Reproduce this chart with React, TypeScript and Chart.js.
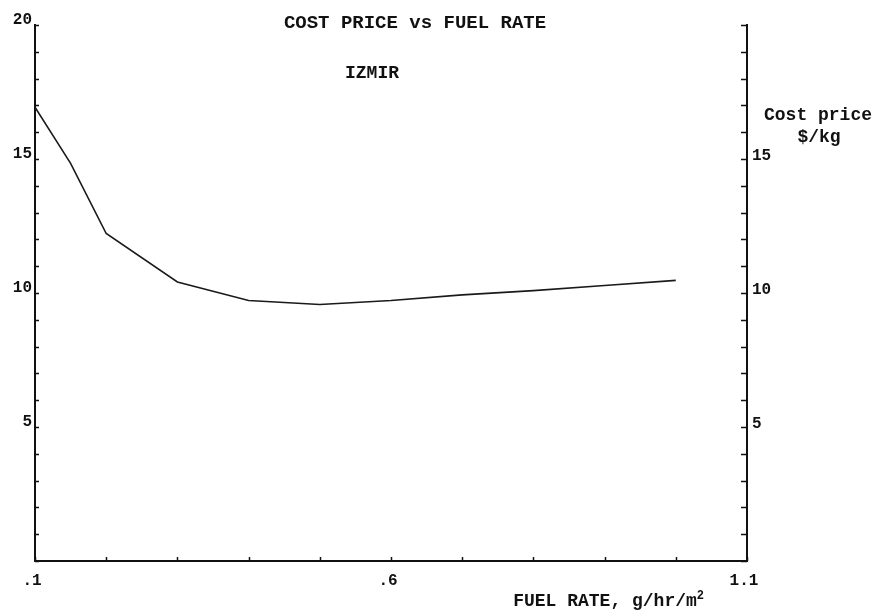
import React, { useEffect, useRef } from "react";
import { Chart, registerables } from "chart.js";

Chart.register(...registerables);

// Data
const fuelRate = [0.1, 0.15, 0.2, 0.3, 0.4, 0.5, 0.6, 0.7, 0.8, 0.9, 1.0];
const costPrice = [16.93, 14.84, 12.22, 10.41, 9.72, 9.57, 9.72, 9.93, 10.09, 10.28, 10.47];

const xLabelValues = [0.1, 0.6, 1.1];
const xLabelTexts = [".1", ".6", "1.1"];
const leftLabelValues = [5, 10, 15, 20];
const rightLabelValues = [5, 10, 15];

const titleText = "COST PRICE vs FUEL RATE";
const subtitleText = "IZMIR";
const yTitleLines = ["Cost price", "$/kg"];
const xTitleMain = "FUEL RATE, g/hr/m";
const xTitleSup = "2";

const FONT = '"Liberation Mono", "DejaVu Sans Mono", monospace';
const INK = "#111111";

export default function App() {
  const ref = useRef<HTMLCanvasElement | null>(null);

  useEffect(() => {
    if (!ref.current) return;

    const tickMarks = {
      id: "tickMarks",
      afterDraw(chart: any) {
        const ctx = chart.ctx;
        const area = chart.chartArea;
        const sx = chart.scales.x;
        const sy = chart.scales.y;
        const sy1 = chart.scales.y1;
        ctx.save();
        ctx.strokeStyle = INK;
        ctx.lineWidth = 1.5;
        ctx.beginPath();
        sy.ticks.forEach((t: any) => {
          const py = Math.round(sy.getPixelForValue(t.value)) + 0.5;
          ctx.moveTo(area.left, py);
          ctx.lineTo(area.left + 4, py);
        });
        sy1.ticks.forEach((t: any) => {
          const py = Math.round(sy1.getPixelForValue(t.value)) + 0.5;
          ctx.moveTo(area.right - 6, py);
          ctx.lineTo(area.right, py);
        });
        sx.ticks.forEach((t: any) => {
          const px = Math.round(sx.getPixelForValue(t.value)) + 0.5;
          ctx.moveTo(px, area.bottom);
          ctx.lineTo(px, area.bottom - 4);
        });
        ctx.stroke();

        // texts
        ctx.fillStyle = INK;
        ctx.textAlign = "center";
        ctx.textBaseline = "middle";
        ctx.font = `bold 19px ${FONT}`;
        ctx.fillText(titleText, 415, 23);
        ctx.font = `bold 18px ${FONT}`;
        ctx.fillText(subtitleText, 372, 73);

        ctx.font = `bold 18px ${FONT}`;
        ctx.fillText(yTitleLines[0], 818, 115);
        ctx.fillText(yTitleLines[1], 819, 137);

        ctx.textAlign = "left";
        ctx.font = `bold 18px ${FONT}`;
        const w = ctx.measureText(xTitleMain).width;
        const startX = 609 - (w + 8) / 2;
        ctx.fillText(xTitleMain, startX, 601);
        ctx.font = `bold 12px ${FONT}`;
        ctx.fillText(xTitleSup, startX + w, 596);
        ctx.restore();
      },
    };

    const labelFont = { family: FONT, size: 16, weight: "bold" as const };

    const chart = new Chart(ref.current, {
      type: "scatter",
      data: {
        datasets: [
          {
            data: fuelRate.map((x, i) => ({ x, y: costPrice[i] })),
            showLine: true,
            borderColor: "#1a1a1a",
            borderWidth: 1.6,
            pointRadius: 0,
            tension: 0,
            yAxisID: "y",
          },
        ],
      },
      options: {
        responsive: false,
        animation: false,
        layout: { padding: { top: 25, left: 0, right: 0, bottom: 0 } },
        plugins: {
          legend: { display: false },
          tooltip: { enabled: false },
          title: { display: false },
        },
        scales: {
          x: {
            type: "linear",
            min: 0.1,
            max: 1.1,
            grid: { display: true, drawOnChartArea: false, drawTicks: false },
            border: { display: true, color: INK, width: 2 },
            afterFit: (s: any) => {
              s.height = 50;
            },
            ticks: {
              stepSize: 0.1,
              autoSkip: false,
              maxRotation: 0,
              padding: 10,
              labelOffset: -3,
              color: INK,
              font: labelFont,
              callback: (v: any) => {
                const idx = xLabelValues.findIndex((lv) => Math.abs(lv - Number(v)) < 1e-6);
                return idx >= 0 ? xLabelTexts[idx] : "";
              },
            },
          },
          y: {
            type: "linear",
            position: "left",
            min: 0,
            max: 20,
            grid: { display: true, drawOnChartArea: false, drawTicks: false },
            border: { display: true, color: INK, width: 2 },
            afterFit: (s: any) => {
              s.width = 35;
            },
            ticks: {
              stepSize: 1,
              autoSkip: false,
              maxTicksLimit: 100,
              padding: 3,
              labelOffset: -5,
              color: INK,
              font: labelFont,
              callback: (v: any) => (leftLabelValues.includes(Number(v)) ? String(v) : ""),
            },
          },
          y1: {
            type: "linear",
            position: "right",
            min: 0,
            max: 20,
            grid: { display: true, drawOnChartArea: false, drawTicks: false },
            border: { display: true, color: INK, width: 2 },
            afterFit: (s: any) => {
              s.width = 130;
            },
            ticks: {
              stepSize: 1,
              autoSkip: false,
              maxTicksLimit: 100,
              padding: 5,
              labelOffset: -3,
              color: INK,
              font: labelFont,
              callback: (v: any) => (rightLabelValues.includes(Number(v)) ? String(v) : ""),
            },
          },
        },
      },
      plugins: [tickMarks],
    });

    return () => chart.destroy();
  }, []);

  return (
    <div style={{ position: "fixed", left: 0, top: 0, width: 877, height: 611, background: "#fff" }}>
      <canvas ref={ref} width={877} height={611} style={{ display: "block" }} />
    </div>
  );
}
